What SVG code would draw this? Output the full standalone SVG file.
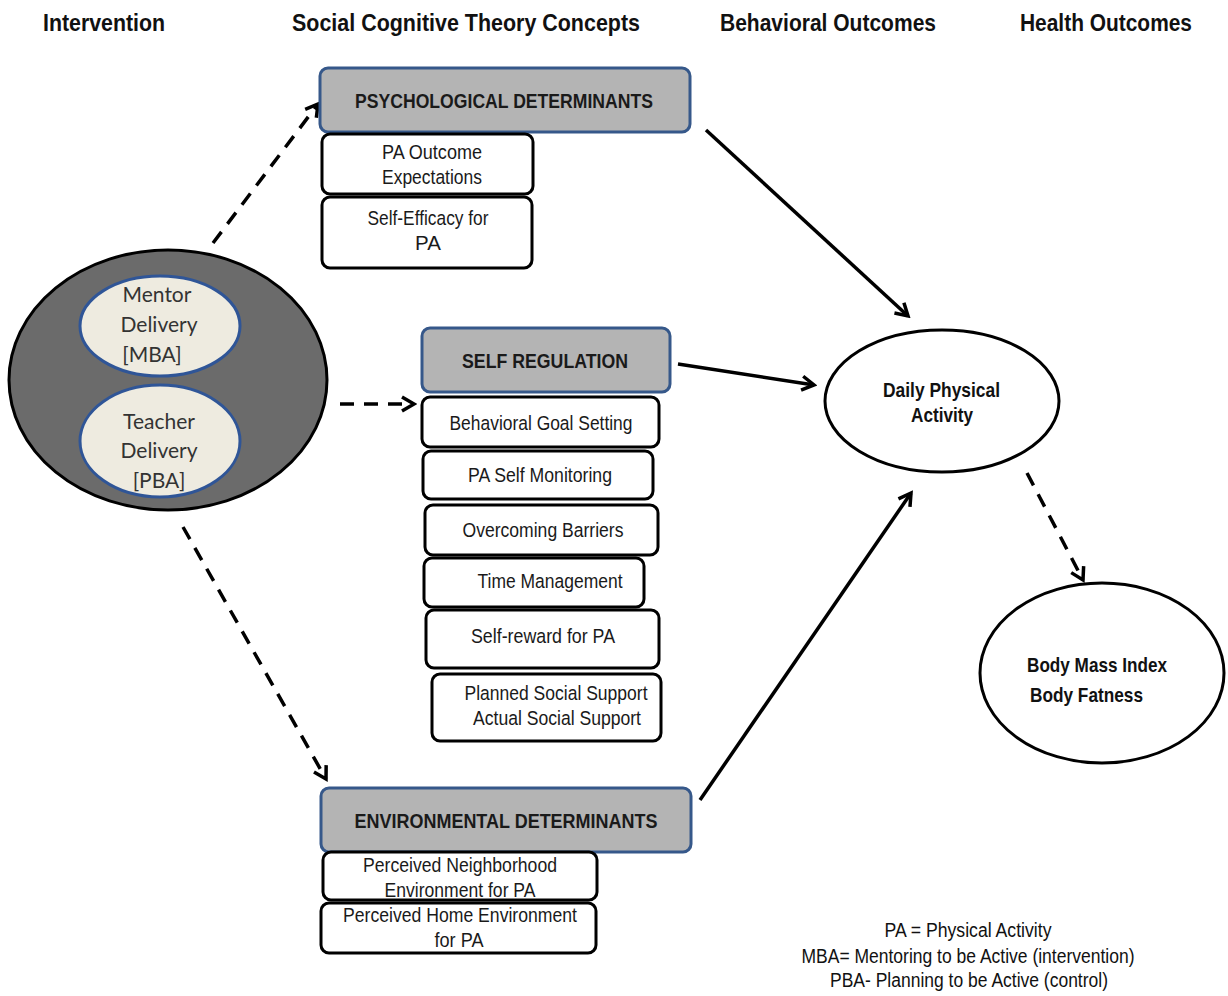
<svg xmlns="http://www.w3.org/2000/svg" width="1228" height="996" viewBox="0 0 1228 996">
<style>
.hdr{font-family:"Liberation Sans Narrow","Liberation Sans",Arial,sans-serif;font-weight:bold;font-size:24px;fill:#111}
.cat{fill:#b4b4b4;stroke:#36588a;stroke-width:3}
.cattx{font-family:"Liberation Sans Narrow","Liberation Sans",Arial,sans-serif;font-weight:bold;font-size:19.5px;fill:#1a1a1a;text-anchor:middle}
.sub{fill:#fff;stroke:#000;stroke-width:3}
.subtx{font-family:"Liberation Sans Narrow","Liberation Sans",Arial,sans-serif;font-size:20.5px;fill:#1a1a1a;text-anchor:middle}
.inner{fill:#eeebe0;stroke:#2f5597;stroke-width:3}
.intx{font-family:Lato,"Open Sans",sans-serif;font-size:21px;fill:#333;text-anchor:middle}
.out{fill:#fff;stroke:#000;stroke-width:3}
.outtx{font-family:"Liberation Sans Narrow","Liberation Sans",Arial,sans-serif;font-weight:bold;font-size:21px;fill:#111}
.leg{font-family:"Liberation Sans Narrow","Liberation Sans",Arial,sans-serif;font-size:20px;fill:#111;text-anchor:middle}
.solid{stroke:#000;stroke-width:3.5;fill:none;marker-end:url(#ah)}
.dash{stroke:#000;stroke-width:3.5;fill:none;stroke-dasharray:14 10;marker-end:url(#ah)}
</style>
<defs>
<marker id="ah" markerUnits="userSpaceOnUse" markerWidth="18" markerHeight="18" refX="15" refY="9" orient="auto" viewBox="0 0 18 18">
<path d="M3,2 L15,9 L3,16" fill="none" stroke="#000" stroke-width="3.5" stroke-linejoin="miter"/>
</marker>
</defs>
<rect width="1228" height="996" fill="#fff"/>

<g id="headers">
<text class="hdr" x="43" y="31" textLength="122" lengthAdjust="spacingAndGlyphs">Intervention</text>
<text class="hdr" x="292" y="31" textLength="348" lengthAdjust="spacingAndGlyphs">Social Cognitive Theory  Concepts</text>
<text class="hdr" x="720" y="31" textLength="216" lengthAdjust="spacingAndGlyphs">Behavioral Outcomes</text>
<text class="hdr" x="1020" y="31" textLength="172" lengthAdjust="spacingAndGlyphs">Health Outcomes</text>
</g>

<g id="connectors">
<line class="dash" x1="213" y1="243" x2="318" y2="104"/>
<line class="dash" x1="340" y1="404" x2="414" y2="404"/>
<line class="dash" x1="183" y1="527" x2="326" y2="779"/>
<line class="solid" x1="706" y1="130" x2="908" y2="316"/>
<line class="solid" x1="678" y1="364" x2="814" y2="385"/>
<line class="solid" x1="700" y1="800" x2="911" y2="493"/>
<line class="dash" x1="1027" y1="473" x2="1083" y2="580"/>
</g>

<g id="intervention">
<ellipse cx="168" cy="380" rx="159" ry="130" fill="#6b6b6b" stroke="#000" stroke-width="3"/>
</g>
<g id="mentor">
<ellipse class="inner" cx="160" cy="326" rx="80" ry="50"/>
<text class="intx" x="157" y="302">Mentor</text>
<text class="intx" x="159" y="332">Delivery</text>
<text class="intx" x="152" y="362">[MBA]</text>
</g>
<g id="teacher">
<ellipse class="inner" cx="160" cy="441" rx="80" ry="56"/>
<text class="intx" x="159" y="429">Teacher</text>
<text class="intx" x="159" y="458">Delivery</text>
<text class="intx" x="159" y="488">[PBA]</text>
</g>

<g id="psych">
<rect class="cat" x="320" y="68" width="370" height="64" rx="8"/>
<text class="cattx" x="504" y="108" textLength="298" lengthAdjust="spacingAndGlyphs">PSYCHOLOGICAL DETERMINANTS</text>
</g>
<g id="outcome-exp">
<rect class="sub" x="322" y="134" width="211" height="60" rx="8"/>
<text class="subtx" x="432" y="159" textLength="100" lengthAdjust="spacingAndGlyphs">PA Outcome</text>
<text class="subtx" x="432" y="184" textLength="100" lengthAdjust="spacingAndGlyphs">Expectations</text>
</g>
<g id="self-efficacy">
<rect class="sub" x="322" y="197" width="210" height="71" rx="8"/>
<text class="subtx" x="428" y="225" textLength="121" lengthAdjust="spacingAndGlyphs">Self-Efficacy for</text>
<text class="subtx" x="428" y="250">PA</text>
</g>

<g id="selfreg">
<rect class="cat" x="422" y="328" width="248" height="64" rx="8"/>
<text class="cattx" x="545" y="368" textLength="166" lengthAdjust="spacingAndGlyphs">SELF REGULATION</text>
</g>
<g id="goal">
<rect class="sub" x="422" y="397" width="237" height="50" rx="8"/>
<text class="subtx" x="541" y="430" textLength="183" lengthAdjust="spacingAndGlyphs">Behavioral Goal Setting</text>
</g>
<g id="monitoring">
<rect class="sub" x="423" y="451" width="230" height="48" rx="8"/>
<text class="subtx" x="540" y="482" textLength="144" lengthAdjust="spacingAndGlyphs">PA Self Monitoring</text>
</g>
<g id="barriers">
<rect class="sub" x="425" y="505" width="233" height="50" rx="8"/>
<text class="subtx" x="543" y="537" textLength="161" lengthAdjust="spacingAndGlyphs">Overcoming Barriers</text>
</g>
<g id="time">
<rect class="sub" x="424" y="558" width="220" height="49" rx="8"/>
<text class="subtx" x="550" y="588" textLength="145" lengthAdjust="spacingAndGlyphs">Time Management</text>
</g>
<g id="reward">
<rect class="sub" x="426" y="610" width="233" height="58" rx="8"/>
<text class="subtx" x="543" y="643" textLength="144" lengthAdjust="spacingAndGlyphs">Self-reward for PA</text>
</g>
<g id="social">
<rect class="sub" x="432" y="674" width="229" height="67" rx="8"/>
<text class="subtx" x="556" y="700" textLength="183" lengthAdjust="spacingAndGlyphs">Planned Social Support</text>
<text class="subtx" x="557" y="725" textLength="168" lengthAdjust="spacingAndGlyphs">Actual Social Support</text>
</g>

<g id="env">
<rect class="cat" x="321" y="788" width="370" height="64" rx="8"/>
<text class="cattx" x="506" y="828" textLength="303" lengthAdjust="spacingAndGlyphs">ENVIRONMENTAL  DETERMINANTS</text>
</g>
<g id="neighborhood">
<rect class="sub" x="323" y="852" width="274" height="48" rx="8"/>
<text class="subtx" x="460" y="872" textLength="194" lengthAdjust="spacingAndGlyphs">Perceived Neighborhood</text>
<text class="subtx" x="460" y="897" textLength="151" lengthAdjust="spacingAndGlyphs">Environment for PA</text>
</g>
<g id="home">
<rect class="sub" x="321" y="903" width="275" height="50" rx="8"/>
<text class="subtx" x="460" y="922" textLength="234" lengthAdjust="spacingAndGlyphs">Perceived Home Environment</text>
<text class="subtx" x="459" y="947" textLength="49" lengthAdjust="spacingAndGlyphs">for PA</text>
</g>

<g id="daily-pa">
<ellipse class="out" cx="942" cy="401" rx="117" ry="71"/>
<text class="outtx" x="883" y="397" textLength="117" lengthAdjust="spacingAndGlyphs">Daily Physical</text>
<text class="outtx" x="911" y="422" textLength="62" lengthAdjust="spacingAndGlyphs">Activity</text>
</g>
<g id="bmi">
<ellipse class="out" cx="1102" cy="673" rx="122" ry="90"/>
<text class="outtx" x="1027" y="672" textLength="140" lengthAdjust="spacingAndGlyphs">Body Mass Index</text>
<text class="outtx" x="1030" y="702" textLength="113" lengthAdjust="spacingAndGlyphs">Body Fatness</text>
</g>

<g id="legend">
<text class="leg" x="968" y="937" textLength="167" lengthAdjust="spacingAndGlyphs">PA = Physical Activity</text>
<text class="leg" x="968" y="963" textLength="333" lengthAdjust="spacingAndGlyphs">MBA= Mentoring to be Active (intervention)</text>
<text class="leg" x="969" y="987" textLength="278" lengthAdjust="spacingAndGlyphs">PBA- Planning to be Active (control)</text>
</g>
</svg>
